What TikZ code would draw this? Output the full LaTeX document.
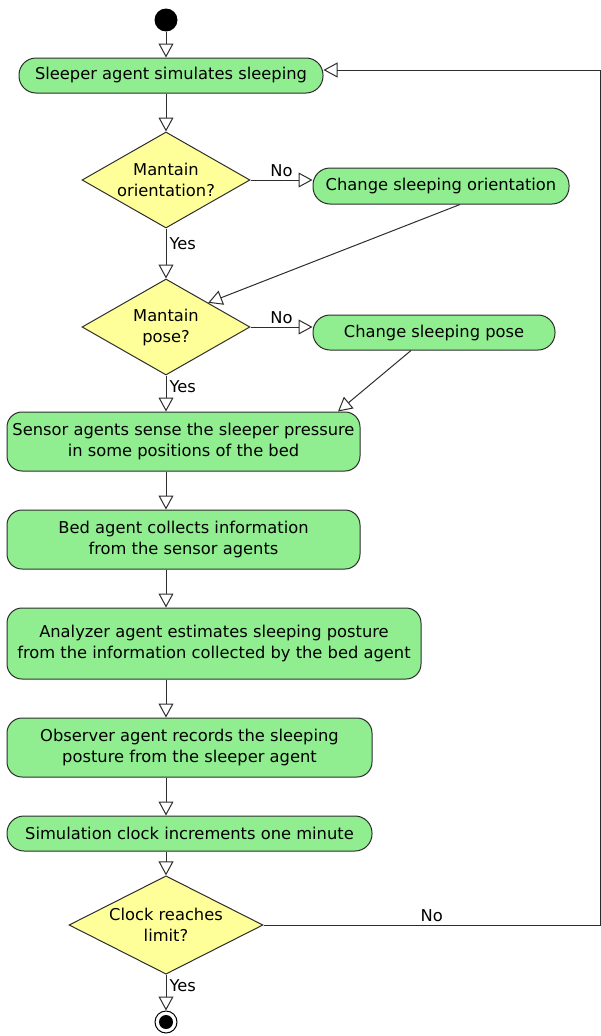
\documentclass[tikz,border=0pt]{standalone}
\usepackage{fontspec}
\setmainfont{DejaVu Sans}
\usetikzlibrary{arrows.meta,calc,positioning,shapes.geometric}
\definecolor{actgreen}{RGB}{144,238,144}
\definecolor{decyellow}{RGB}{255,255,153}
\definecolor{umlline}{RGB}{45,45,45}

\tikzset{
  action/.style={draw=umlline,fill=actgreen,line width=1pt,rounded corners=15pt,
    inner sep=0pt,align=center,font=\fontsize{16.3}{21}\selectfont},
  pill/.style={action,rounded corners=17pt,minimum height=35pt},
  decision/.style={diamond,draw=umlline,fill=decyellow,line width=1pt,aspect=1.75,
    inner sep=0pt,align=center,font=\fontsize{16.3}{21}\selectfont},
  flow/.style={draw=umlline,line width=1pt,-{Triangle[open,length=14pt,width=15pt]}},
  guard/.style={font=\fontsize{16.3}{19}\selectfont,inner sep=3pt},
}

\begin{document}
\begin{tikzpicture}[x=1pt,y=-1pt]
  \useasboundingbox (0,0) rectangle (601,1036);

  % start / stop
  \node[circle,fill=black,minimum size=23pt,inner sep=0pt] (start) at (166,20) {};
  \node[circle,draw=black,fill=white,line width=1pt,minimum size=22pt,inner sep=0pt,
    path picture={\fill[black] (path picture bounding box.center) circle (7pt);}] (stop) at (166,1022) {};

  % actions and decisions
  \node[pill,minimum width=304pt] (sleeper) at (171,75.5) {Sleeper agent simulates sleeping};
  \node[decision,minimum width=168pt,minimum height=96pt] (d1) at (166,180) {Mantain\\orientation?};
  \node[pill,minimum width=256pt,minimum height=36pt] (chOri) at (441,186) {Change sleeping orientation};
  \node[decision,minimum width=168pt,minimum height=96pt] (d2) at (166,327) {Mantain\\pose?};
  \node[pill,minimum width=242pt] (chPose) at (434,332.5) {Change sleeping pose};
  \node[action,minimum width=353pt,minimum height=59pt] (sensor) at (183.5,441.5)
    {Sensor agents sense the sleeper pressure\\in some positions of the bed};
  \node[action,minimum width=353pt,minimum height=59pt] (bed) at (183.5,539.5)
    {Bed agent collects information\\from the sensor agents};
  \node[action,minimum width=414pt,minimum height=71pt] (analyzer) at (214,643.5)
    {Analyzer agent estimates sleeping posture\\from the information collected by the bed agent};
  \node[action,minimum width=365pt,minimum height=59pt] (observer) at (189.5,747.5)
    {Observer agent records the sleeping\\posture from the sleeper agent};
  \node[pill,minimum width=365pt] (clock) at (189.5,833.5) {Simulation clock increments one minute};
  \node[decision,minimum width=194pt,minimum height=95pt] (d3) at (166,925) {Clock reaches\\limit?};

  \coordinate (loopR) at (600,925);
  \coordinate (loopT) at (600,70);

  % connectors
  \draw[flow] (start.south) -- (start.south |- sleeper.north);
  \draw[flow] (sleeper.south -| d1.north) -- (d1.north);
  \draw[flow] (d1.east) -- node[guard,above]{No} (d1.east -| chOri.west);
  \draw[flow] (d1.south) -- node[guard,pos=0.3,right]{Yes} (d2.north);
  \draw[flow] ($(chOri.south)+(19,0)$) -- (d2.north east);
  \draw[flow] (d2.east) -- node[guard,above]{No} (d2.east -| chPose.west);
  \draw[flow] (d2.south) -- node[guard,pos=0.3,right]{Yes} (d2.south |- sensor.north);
  \draw[flow] ($(chPose.south)+(-23,0)$) -- ($(sensor.north)+(154.5,0)$);
  \foreach \a/\b in {sensor/bed,bed/analyzer,analyzer/observer,observer/clock,clock/d3}
    \draw[flow] (\a.south -| d1.south) -- (\b.north -| d1.south);
  \draw[flow] (d3.south) -- node[guard,pos=0.3,right]{Yes} (stop.north);
  \draw[flow] (d3.east) -- node[guard,above]{No} (loopR) -- (loopT) -- (loopT -| sleeper.east);
\end{tikzpicture}
\end{document}
